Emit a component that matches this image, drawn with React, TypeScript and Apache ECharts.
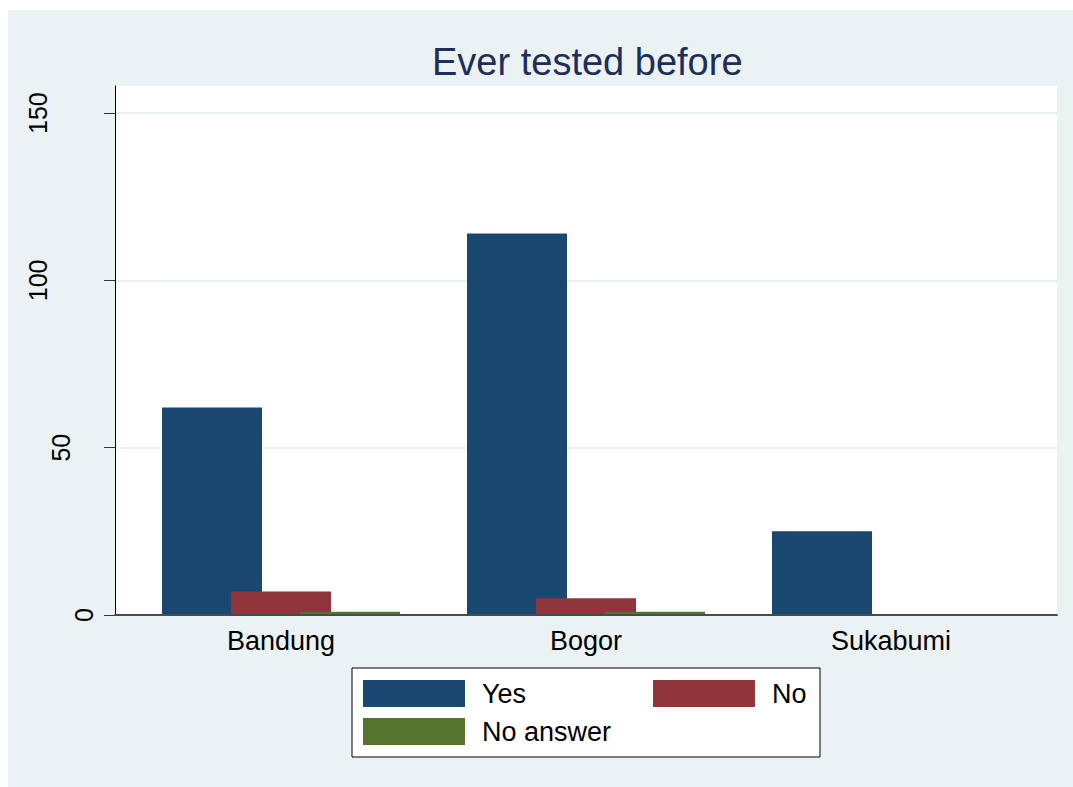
import React, { useEffect, useRef } from "react";
import * as echarts from "echarts";

const categories = ["Bandung", "Bogor", "Sukabumi"];
const seriesNames = ["Yes", "No", "No answer"];
const yesValues = [62, 114, 25];
const noValues = [7, 5, 0];
const noAnswerValues = [1, 1, 0];
const yTicks = [0, 50, 100, 150];
const yMax = 158.1;

const FONT = "'Liberation Sans', Arial, sans-serif";
const colors = ["#1A476F", "#90353B", "#55752F"];

export default function App() {
  const ref = useRef<HTMLDivElement>(null);
  useEffect(() => {
    if (!ref.current) return;
    const chart = echarts.init(ref.current, null, { renderer: "svg" });
    const dataArr = [yesValues, noValues, noAnswerValues];
    const labelRich = {
      p1: { fontSize: 25, color: "#000", fontFamily: FONT, padding: [0, 0, 0, 0] },
      p2: { fontSize: 25, color: "#000", fontFamily: FONT, padding: [0, 0, 23, 0] },
      p3: { fontSize: 25, color: "#000", fontFamily: FONT, padding: [0, 0, 46, 0] },
    };
    chart.setOption({
      animation: false,
      backgroundColor: "#EAF2F3",
      textStyle: { fontFamily: FONT },
      title: {
        text: "Ever tested before",
        left: 424,
        top: 33,
        padding: 0,
        textStyle: { fontFamily: FONT, fontSize: 38, fontWeight: "normal", color: "#1E2D5A" },
      },
      grid: [
        { left: 120.5, right: 29.5, top: 76, bottom: 172, show: false, containLabel: false },
        { left: 107, right: 16, top: 76, bottom: 172, show: true, backgroundColor: "#ffffff", borderWidth: 0, containLabel: false },
      ],
      xAxis: [
        {
          type: "category",
          gridIndex: 0,
          data: categories,
          axisLine: { show: false },
          axisTick: { show: false },
          axisLabel: { fontSize: 27, color: "#000", fontFamily: FONT, margin: 12 },
          splitLine: { show: false },
        },
        {
          type: "value",
          gridIndex: 1,
          min: 0,
          max: 1,
          z: 5,
          axisLine: { show: true, lineStyle: { color: "#454B4E", width: 2 } },
          axisTick: { show: false },
          axisLabel: { show: false },
          splitLine: { show: false },
        },
      ],
      yAxis: [
        { type: "value", gridIndex: 0, min: 0, max: yMax, show: false, splitLine: { show: false } },
        {
          type: "value",
          gridIndex: 1,
          min: 0,
          max: yMax,
          interval: 50,
          axisLine: { show: true, lineStyle: { color: "#000", width: 1 } },
          axisTick: { show: true, length: 11, lineStyle: { color: "#333" }, customValues: yTicks },
          axisLabel: {
            rotate: 90,
            fontSize: 25,
            color: "#000",
            fontFamily: FONT,
            margin: 19,
            customValues: yTicks,
            formatter: (v: number) => {
              const s = String(v);
              return `{p${s.length}|${s}}`;
            },
            rich: labelRich,
          },
          splitLine: { show: true, lineStyle: { color: "#EAF2F3", width: 2 } },
        },
      ],
      legend: [
        {
          data: ["Yes", "No answer"],
          orient: "vertical",
          left: 355,
          top: 670,
          padding: 0,
          itemWidth: 102,
          itemHeight: 27,
          itemGap: 11,
          icon: "rect",
          selectedMode: false,
          textStyle: { fontSize: 27, color: "#000", fontFamily: FONT, lineHeight: 27, padding: [0, 0, 0, 12] },
        },
        {
          data: ["No"],
          orient: "vertical",
          left: 645,
          top: 670,
          padding: 0,
          itemWidth: 102,
          itemHeight: 27,
          itemGap: 11,
          icon: "rect",
          selectedMode: false,
          textStyle: { fontSize: 27, color: "#000", fontFamily: FONT, lineHeight: 27, padding: [0, 0, 0, 12] },
        },
      ],
      graphic: [
        {
          type: "rect",
          shape: { x: 344, y: 658, width: 468, height: 89 },
          style: { fill: "#fff", stroke: "#000", lineWidth: 1 },
          z: -1,
        },
      ],
      series: seriesNames.map((name, i) => ({
        name,
        type: "bar",
        xAxisIndex: 0,
        yAxisIndex: 0,
        data: dataArr[i],
        barWidth: 100,
        barGap: "-31%",
        itemStyle: { color: colors[i] },
      })),
    });
    return () => chart.dispose();
  }, []);
  return (
    <div
      ref={ref}
      style={{ position: "fixed", left: 8, top: 10, width: 1065, height: 777 }}
    />
  );
}
